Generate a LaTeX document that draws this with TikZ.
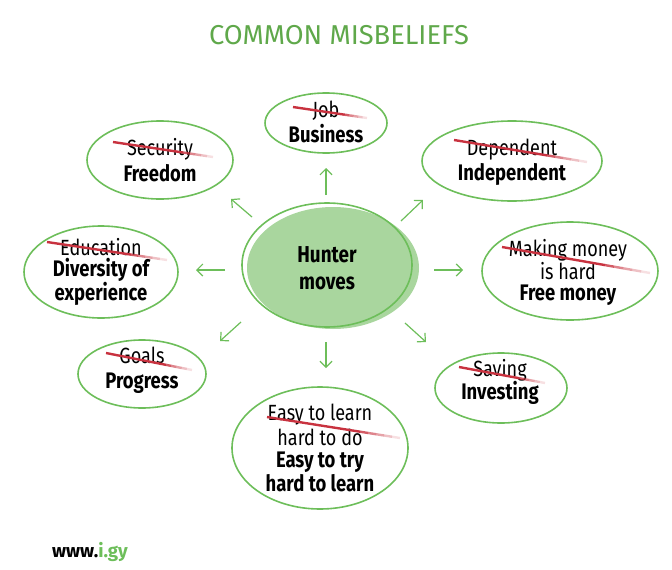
\documentclass[tikz,border=0pt]{standalone}
\usepackage{fontspec}
\setmainfont[FakeStretch=0.82]{Fira Sans}
\newfontfamily\plainfira{Fira Sans}
\usetikzlibrary{shapes.geometric,arrows.meta,calc}
\definecolor{grn}{HTML}{6DBE5A}
\definecolor{ttl}{HTML}{5FA84A}
\definecolor{fillg}{HTML}{A9D69E}
\definecolor{strikered}{HTML}{C8323F}
\newcommand\strk[2]{%
  \draw[strikec] #1 -- ($#1!0.7!#2$);
  \foreach \i/\o in {0.70/0.8,0.76/0.6,0.82/0.45,0.88/0.3,0.94/0.15}{%
    \draw[strikec,opacity=\o] ($#1!\i!#2$) -- ($#1!{\i+0.06}!#2$);}%
}
\begin{document}
\begin{tikzpicture}[x=1pt,y=-1pt,
  bubble/.style={draw=grn, line width=1.6pt, ellipse, inner sep=0pt},
  oldtxt/.style={font=\fontsize{22}{23}\selectfont, align=center, inner sep=0pt},
  newtxt/.style={font=\bfseries\fontsize{22.5}{24}\selectfont, align=center, inner sep=0pt},
  arr/.style={draw=grn, line width=1.2pt, -{Straight Barb[length=6pt,width=12pt]}},
  strikec/.style={draw=strikered, line width=2.4pt}]
\useasboundingbox (0,0) rectangle (672,570);

% title
\node[font=\plainfira\fontsize{27.3}{30}\selectfont, text=ttl] (title) at (339,35) {COMMON MISBELIEFS};

% centre
\node[ellipse, fill=fillg, minimum width=172pt, minimum height=122pt, inner sep=0pt] (hfill) at (333,268) {};
\node[bubble, minimum width=170pt, minimum height=124pt] (hub) at (327,265) {};
\node[font=\bfseries\fontsize{23}{27}\selectfont, align=center] (htxt) at (327,268) {Hunter\\moves};

% bubbles
\node[bubble, minimum width=122pt, minimum height=60pt] (eJob) at (326,123) {};
\node[bubble, minimum width=146pt, minimum height=78pt] (eSec) at (160,160) {};
\node[bubble, minimum width=180pt, minimum height=80pt] (eDep) at (512,161) {};
\node[bubble, minimum width=154pt, minimum height=92pt] (eEdu) at (101,272) {};
\node[bubble, minimum width=176pt, minimum height=98pt] (eMon) at (570,271) {};
\node[bubble, minimum width=128pt, minimum height=68pt] (eGoal) at (142,374) {};
\node[bubble, minimum width=132pt, minimum height=70pt] (eSav) at (501,388) {};
\node[bubble, minimum width=176pt, minimum height=122pt] (eEasy) at (320,448) {};

% texts
\node[oldtxt] (tJob) at (326,111) {Job};
\node[newtxt] (tBus) at (326,134) {Business};
\node[oldtxt] (tSec) at (160,149) {Security};
\node[newtxt] (tFree) at (160,173) {Freedom};
\node[oldtxt] (tDep) at (512,150) {Dependent};
\node[newtxt] (tInd) at (512,174) {Independent};
\node[oldtxt] (tEdu) at (101,247) {Education};
\node[newtxt] (tDiv) at (101,282) {Diversity of\\experience};
\node[oldtxt] (tMak) at (568,260) {Making money\\is hard};
\node[newtxt] (tFm) at (568,295) {Free money};
\node[oldtxt] (tGoal) at (142,355) {Goals};
\node[newtxt] (tProg) at (142,383) {Progress};
\node[oldtxt] (tSav) at (500,370) {Saving};
\node[newtxt] (tInv) at (500,393) {Investing};
\node[oldtxt, font=\fontsize{22}{25}\selectfont] (tEasy) at (320,425) {Easy to learn\\hard to do};
\node[newtxt] (tTry) at (320,472) {Easy to try\\hard to learn};

% strike-throughs
\strk{(293,107)}{(367,118)}
\strk{(113,142)}{(213,157)}
\strk{(454,140)}{(587,162)}
\strk{(47,242)}{(167,260)}
\strk{(502,247)}{(650,273)}
\strk{(106,353)}{(192,370)}
\strk{(459,367)}{(545,383)}
\strk{(267,417)}{(400,438)}

% arrows
\coordinate (aU1) at (326,195); \coordinate (aU2) at (326,168);
\coordinate (aUL1) at (252,217); \coordinate (aUL2) at (231,199);
\coordinate (aUR1) at (401,221); \coordinate (aUR2) at (423,200);
\coordinate (aL1) at (225,270); \coordinate (aL2) at (196,270);
\coordinate (aR1) at (434,270); \coordinate (aR2) at (463,270);
\coordinate (aDL1) at (241,322); \coordinate (aDL2) at (220,341);
\coordinate (aDR1) at (405,323); \coordinate (aDR2) at (426,342);
\coordinate (aD1) at (326,342); \coordinate (aD2) at (326,368);
\draw[arr] (aU1) -- (aU2);
\draw[arr] (aUL1) -- (aUL2);
\draw[arr] (aUR1) -- (aUR2);
\draw[arr] (aL1) -- (aL2);
\draw[arr] (aR1) -- (aR2);
\draw[arr] (aDL1) -- (aDL2);
\draw[arr] (aDR1) -- (aDR2);
\draw[arr] (aD1) -- (aD2);

% logo
\node[font=\plainfira\bfseries\fontsize{18.7}{20}\selectfont, anchor=base west, inner sep=0pt] (logo) at (52,557) {www.\textcolor{grn}{i.gy}};
\end{tikzpicture}
\end{document}
